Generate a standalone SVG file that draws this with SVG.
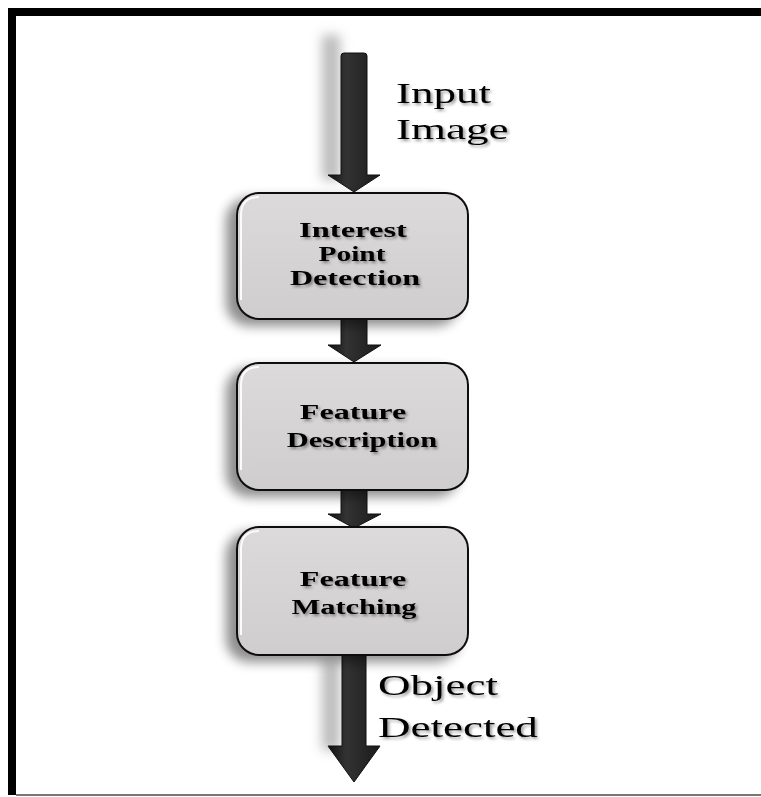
<svg xmlns="http://www.w3.org/2000/svg" width="761" height="797" viewBox="0 0 761 797">
<style>
.box{fill:url(#boxGrad);stroke:#111;stroke-width:2}
.hl{fill:none;stroke:#fff;stroke-width:2;opacity:0.9}
.arrow{fill:url(#arrGrad);stroke:#111;stroke-width:1}
.lbl{font-family:"Liberation Serif","Times New Roman",serif;font-weight:bold;font-size:21px;fill:#000;text-anchor:middle}
.big{font-family:"Liberation Serif","Times New Roman",serif;font-size:30px;fill:#000}
</style>
<defs>
<linearGradient id="boxGrad" x1="0" y1="0" x2="0" y2="1">
<stop offset="0" stop-color="#dcdadb"/>
<stop offset="1" stop-color="#cfcdce"/>
</linearGradient>
<linearGradient id="arrGrad" x1="0" y1="0" x2="1" y2="0">
<stop offset="0" stop-color="#111"/>
<stop offset="0.35" stop-color="#333"/>
<stop offset="1" stop-color="#1a1a1a"/>
</linearGradient>
<filter id="sh" x="-30%" y="-30%" width="160%" height="160%">
<feGaussianBlur in="SourceAlpha" stdDeviation="6"/>
<feOffset dx="-10" dy="6" result="b"/>
<feComponentTransfer><feFuncA type="linear" slope="0.45"/></feComponentTransfer>
<feMerge><feMergeNode/><feMergeNode in="SourceGraphic"/></feMerge>
</filter>
<filter id="tsh" x="-10%" y="-30%" width="120%" height="160%">
<feGaussianBlur in="SourceAlpha" stdDeviation="1.5"/>
<feOffset dx="1.5" dy="2"/>
<feComponentTransfer><feFuncA type="linear" slope="0.4"/></feComponentTransfer>
<feMerge><feMergeNode/><feMergeNode in="SourceGraphic"/></feMerge>
</filter>
<filter id="blur" x="-100%" y="-20%" width="300%" height="140%">
<feGaussianBlur stdDeviation="6"/>
</filter>
</defs>
<rect width="761" height="797" fill="#fff"/>
<g id="frame">
<rect x="8" y="8" width="753" height="8" fill="#000"/>
<rect x="8" y="8" width="8" height="787" fill="#000"/>
<rect x="16" y="794" width="745" height="2" fill="#777"/>
</g>
<g id="connectors">
<rect x="322" y="35" width="18" height="145" fill="#bbb" filter="url(#blur)"/>
<rect x="322" y="660" width="18" height="90" fill="#bbb" filter="url(#blur)"/>
<path class="arrow" d="M341,56 Q341,53 344,53 L364,53 Q367,53 367,56 L367,175 L380,175 L354,192 L328,175 L341,175 Z"/>
<path class="arrow" d="M341,319 L367,319 L367,345 L381,345 L354,362 L328,345 L341,345 Z"/>
<path class="arrow" d="M341,490 L367,490 L367,514 L381,514 L354,528 L328,514 L341,514 Z"/>
<path class="arrow" d="M342,655 L366,655 L366,746 L380,746 L354,782 L328,746 L342,746 Z"/>
</g>
<g id="node-interest">
<rect class="box" x="237" y="193" width="231" height="126" rx="22" filter="url(#sh)"/>
<path class="hl" d="M241,300 L241,215 Q241,197 259,197"/>
<g filter="url(#tsh)">
<text class="lbl" transform="translate(353,237) scale(1.55,1)">Interest</text>
<text class="lbl" transform="translate(352,261) scale(1.4,1)">Point</text>
<text class="lbl" transform="translate(355,285) scale(1.53,1)">Detection</text>
</g>
</g>
<g id="node-description">
<rect class="box" x="237" y="363" width="231" height="127" rx="22" filter="url(#sh)"/>
<path class="hl" d="M241,470 L241,385 Q241,367 259,367"/>
<g filter="url(#tsh)">
<text class="lbl" transform="translate(353,419) scale(1.53,1)">Feature</text>
<text class="lbl" transform="translate(362,447) scale(1.45,1)">Description</text>
</g>
</g>
<g id="node-matching">
<rect class="box" x="237" y="527" width="231" height="128" rx="22" filter="url(#sh)"/>
<path class="hl" d="M241,635 L241,549 Q241,531 259,531"/>
<g filter="url(#tsh)">
<text class="lbl" transform="translate(353,586) scale(1.53,1)">Feature</text>
<text class="lbl" transform="translate(354,614) scale(1.45,1)">Matching</text>
</g>
</g>
<g id="label-input" filter="url(#tsh)">
<text class="big" transform="translate(396,103) scale(1.5,1)">Input</text>
<text class="big" transform="translate(396,139) scale(1.5,1)">Image</text>
</g>
<g id="label-output" filter="url(#tsh)">
<text class="big" transform="translate(378,695) scale(1.5,1)">Object</text>
<text class="big" transform="translate(378,737) scale(1.5,1)">Detected</text>
</g>
</svg>
